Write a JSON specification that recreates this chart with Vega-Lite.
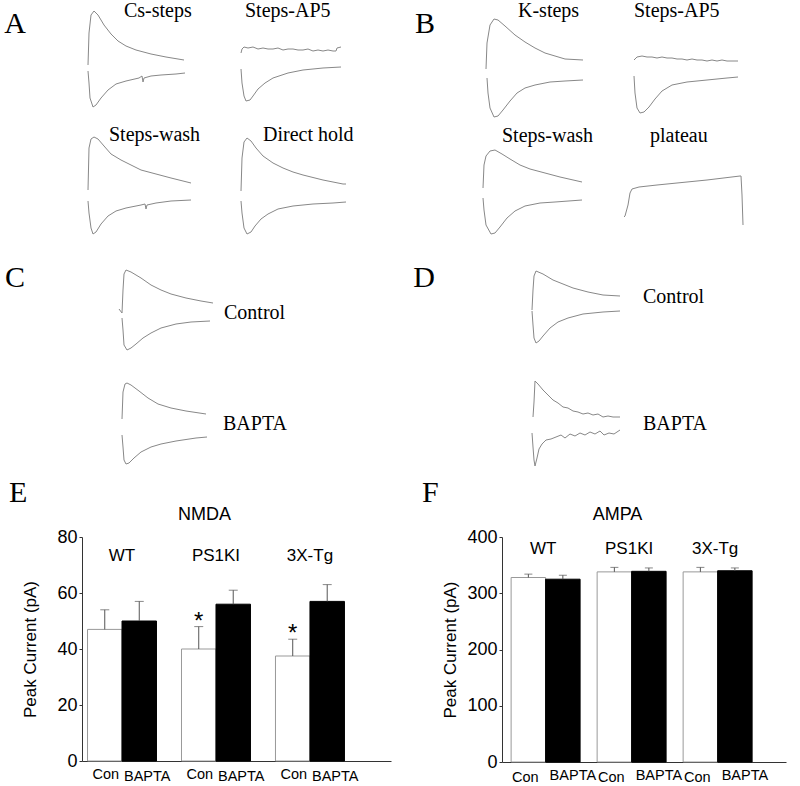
{
"$schema": "https://vega.github.io/schema/vega-lite/v6.json",
"padding": 0,
"background": "white",
"config": {
  "view": {"stroke": "transparent"},
  "title": {"anchor": "start", "frame": "group", "baseline": "alphabetic", "font": "Liberation Serif", "fontSize": 20, "fontWeight": "normal", "color": "black"},
  "line": {"color": "#888888", "strokeWidth": 1},
  "axis": {"labelFont": "Liberation Sans", "titleFont": "Liberation Sans", "labelColor": "black", "titleColor": "black", "titleFontWeight": "normal", "grid": false, "domainColor": "#333333", "tickColor": "#333333"}
},
"datasets": {
  "A1": [{"k":"u","t":3,"v":-4},{"k":"u","t":4,"v":28},{"k":"u","t":6,"v":46},{"k":"u","t":9,"v":50},{"k":"u","t":13,"v":46},{"k":"u","t":19,"v":36},{"k":"u","t":26,"v":27},{"k":"u","t":33,"v":20},{"k":"u","t":41,"v":15},{"k":"u","t":51,"v":11},{"k":"u","t":66,"v":7},{"k":"u","t":81,"v":4},{"k":"u","t":99,"v":1},
         {"k":"l","t":3,"v":-10},{"k":"l","t":4,"v":-22},{"k":"l","t":5,"v":-37},{"k":"l","t":8,"v":-46},{"k":"l","t":11,"v":-44},{"k":"l","t":16,"v":-37},{"k":"l","t":23,"v":-29},{"k":"l","t":31,"v":-23},{"k":"l","t":41,"v":-20},{"k":"l","t":54,"v":-17},{"k":"l","t":57,"v":-15},{"k":"l","t":58,"v":-21},{"k":"l","t":59,"v":-17},{"k":"l","t":66,"v":-15},{"k":"l","t":76,"v":-14},{"k":"l","t":91,"v":-13},{"k":"l","t":100,"v":-12}],
  "A2": [{"k":"u","t":4,"v":8},{"k":"u","t":5,"v":12},{"k":"u","t":7,"v":14},{"k":"u","t":11,"v":13},{"k":"u","t":16,"v":14},{"k":"u","t":21,"v":12},{"k":"u","t":26,"v":13},{"k":"u","t":31,"v":12},{"k":"u","t":36,"v":12},{"k":"u","t":41,"v":13},{"k":"u","t":46,"v":11},{"k":"u","t":51,"v":12},{"k":"u","t":56,"v":12},{"k":"u","t":61,"v":11},{"k":"u","t":66,"v":11},{"k":"u","t":71,"v":12},{"k":"u","t":76,"v":10},{"k":"u","t":81,"v":11},{"k":"u","t":86,"v":10},{"k":"u","t":91,"v":11},{"k":"u","t":96,"v":10},{"k":"u","t":99,"v":10},{"k":"u","t":100,"v":13},{"k":"u","t":104,"v":14},
         {"k":"l","t":4,"v":-8},{"k":"l","t":5,"v":-22},{"k":"l","t":7,"v":-35},{"k":"l","t":9,"v":-40},{"k":"l","t":13,"v":-39},{"k":"l","t":16,"v":-35},{"k":"l","t":21,"v":-28},{"k":"l","t":28,"v":-22},{"k":"l","t":36,"v":-17},{"k":"l","t":51,"v":-12},{"k":"l","t":66,"v":-9},{"k":"l","t":86,"v":-7},{"k":"l","t":104,"v":-6}],
  "A3": [{"k":"u","t":3,"v":-4},{"k":"u","t":4,"v":38},{"k":"u","t":6,"v":47},{"k":"u","t":9,"v":49},{"k":"u","t":13,"v":47},{"k":"u","t":19,"v":40},{"k":"u","t":26,"v":32},{"k":"u","t":36,"v":26},{"k":"u","t":46,"v":21},{"k":"u","t":56,"v":16},{"k":"u","t":71,"v":12},{"k":"u","t":86,"v":8},{"k":"u","t":106,"v":3},
         {"k":"l","t":3,"v":-15},{"k":"l","t":4,"v":-27},{"k":"l","t":6,"v":-42},{"k":"l","t":8,"v":-48},{"k":"l","t":11,"v":-46},{"k":"l","t":16,"v":-38},{"k":"l","t":23,"v":-30},{"k":"l","t":31,"v":-25},{"k":"l","t":41,"v":-22},{"k":"l","t":56,"v":-19},{"k":"l","t":60,"v":-18},{"k":"l","t":61,"v":-23},{"k":"l","t":62,"v":-19},{"k":"l","t":71,"v":-17},{"k":"l","t":86,"v":-15},{"k":"l","t":106,"v":-14}],
  "A4": [{"k":"u","t":4,"v":-5},{"k":"u","t":5,"v":28},{"k":"u","t":7,"v":44},{"k":"u","t":10,"v":48},{"k":"u","t":14,"v":45},{"k":"u","t":19,"v":38},{"k":"u","t":26,"v":30},{"k":"u","t":36,"v":23},{"k":"u","t":46,"v":18},{"k":"u","t":56,"v":14},{"k":"u","t":66,"v":11},{"k":"u","t":86,"v":6},{"k":"u","t":106,"v":2},{"k":"u","t":109,"v":2},
         {"k":"l","t":4,"v":-15},{"k":"l","t":5,"v":-27},{"k":"l","t":7,"v":-42},{"k":"l","t":10,"v":-48},{"k":"l","t":14,"v":-46},{"k":"l","t":18,"v":-40},{"k":"l","t":24,"v":-33},{"k":"l","t":31,"v":-28},{"k":"l","t":41,"v":-23},{"k":"l","t":56,"v":-20},{"k":"l","t":76,"v":-18},{"k":"l","t":96,"v":-17},{"k":"l","t":109,"v":-16}],
  "B1": [{"k":"u","t":6,"v":-8},{"k":"u","t":7,"v":18},{"k":"u","t":10,"v":36},{"k":"u","t":14,"v":42},{"k":"u","t":18,"v":41},{"k":"u","t":25,"v":35},{"k":"u","t":35,"v":26},{"k":"u","t":45,"v":19},{"k":"u","t":55,"v":13},{"k":"u","t":65,"v":8},{"k":"u","t":75,"v":5},{"k":"u","t":85,"v":2},{"k":"u","t":103,"v":1},
         {"k":"l","t":7,"v":-17},{"k":"l","t":8,"v":-32},{"k":"l","t":10,"v":-47},{"k":"l","t":14,"v":-56},{"k":"l","t":18,"v":-55},{"k":"l","t":23,"v":-49},{"k":"l","t":30,"v":-40},{"k":"l","t":37,"v":-32},{"k":"l","t":45,"v":-27},{"k":"l","t":55,"v":-24},{"k":"l","t":70,"v":-21},{"k":"l","t":85,"v":-20},{"k":"l","t":103,"v":-19}],
  "B2": [{"k":"u","t":13,"v":1},{"k":"u","t":16,"v":4},{"k":"u","t":21,"v":5},{"k":"u","t":26,"v":4},{"k":"u","t":31,"v":4},{"k":"u","t":36,"v":3},{"k":"u","t":41,"v":4},{"k":"u","t":46,"v":3},{"k":"u","t":51,"v":3},{"k":"u","t":56,"v":2},{"k":"u","t":61,"v":2},{"k":"u","t":66,"v":1},{"k":"u","t":71,"v":2},{"k":"u","t":76,"v":1},{"k":"u","t":81,"v":1},{"k":"u","t":86,"v":0},{"k":"u","t":91,"v":1},{"k":"u","t":96,"v":0},{"k":"u","t":101,"v":1},{"k":"u","t":106,"v":0},{"k":"u","t":111,"v":0},{"k":"u","t":117,"v":0},
         {"k":"l","t":13,"v":-15},{"k":"l","t":14,"v":-32},{"k":"l","t":16,"v":-47},{"k":"l","t":19,"v":-52},{"k":"l","t":23,"v":-51},{"k":"l","t":28,"v":-46},{"k":"l","t":34,"v":-38},{"k":"l","t":41,"v":-30},{"k":"l","t":51,"v":-24},{"k":"l","t":66,"v":-21},{"k":"l","t":86,"v":-19},{"k":"l","t":106,"v":-17},{"k":"l","t":117,"v":-16}],
  "B3": [{"k":"u","t":3,"v":-5},{"k":"u","t":4,"v":18},{"k":"u","t":6,"v":27},{"k":"u","t":10,"v":32},{"k":"u","t":15,"v":33},{"k":"u","t":22,"v":29},{"k":"u","t":30,"v":24},{"k":"u","t":40,"v":18},{"k":"u","t":50,"v":14},{"k":"u","t":65,"v":10},{"k":"u","t":80,"v":6},{"k":"u","t":102,"v":1},
         {"k":"l","t":3,"v":-15},{"k":"l","t":4,"v":-27},{"k":"l","t":6,"v":-42},{"k":"l","t":11,"v":-51},{"k":"l","t":15,"v":-50},{"k":"l","t":20,"v":-44},{"k":"l","t":27,"v":-35},{"k":"l","t":35,"v":-28},{"k":"l","t":45,"v":-23},{"k":"l","t":60,"v":-20},{"k":"l","t":75,"v":-19},{"k":"l","t":102,"v":-17}],
  "B4": [{"k":"p","t":3,"v":-34},{"k":"p","t":4,"v":-33},{"k":"p","t":7,"v":-22},{"k":"p","t":9,"v":-10},{"k":"p","t":11,"v":-6},{"k":"p","t":18,"v":-4},{"k":"p","t":36,"v":-2},{"k":"p","t":56,"v":0},{"k":"p","t":86,"v":3},{"k":"p","t":119,"v":7},{"k":"p","t":120,"v":7},{"k":"p","t":121,"v":-12},{"k":"p","t":122,"v":-42}],
  "Cc": [{"k":"u","t":4,"v":3},{"k":"u","t":7,"v":-1},{"k":"u","t":8,"v":22},{"k":"u","t":9,"v":38},{"k":"u","t":11,"v":42},{"k":"u","t":16,"v":40},{"k":"u","t":26,"v":34},{"k":"u","t":36,"v":27},{"k":"u","t":46,"v":22},{"k":"u","t":56,"v":18},{"k":"u","t":71,"v":14},{"k":"u","t":86,"v":11},{"k":"u","t":98,"v":9},
         {"k":"l","t":7,"v":-6},{"k":"l","t":8,"v":-18},{"k":"l","t":9,"v":-33},{"k":"l","t":12,"v":-38},{"k":"l","t":16,"v":-36},{"k":"l","t":21,"v":-32},{"k":"l","t":28,"v":-26},{"k":"l","t":36,"v":-21},{"k":"l","t":46,"v":-16},{"k":"l","t":61,"v":-12},{"k":"l","t":76,"v":-10},{"k":"l","t":95,"v":-9}],
  "Cb": [{"k":"u","t":7,"v":3},{"k":"u","t":8,"v":30},{"k":"u","t":10,"v":38},{"k":"u","t":12,"v":39},{"k":"u","t":16,"v":37},{"k":"u","t":24,"v":31},{"k":"u","t":33,"v":24},{"k":"u","t":43,"v":18},{"k":"u","t":56,"v":14},{"k":"u","t":71,"v":11},{"k":"u","t":91,"v":8},
         {"k":"l","t":7,"v":-13},{"k":"l","t":8,"v":-25},{"k":"l","t":9,"v":-38},{"k":"l","t":11,"v":-42},{"k":"l","t":14,"v":-41},{"k":"l","t":19,"v":-36},{"k":"l","t":26,"v":-30},{"k":"l","t":36,"v":-25},{"k":"l","t":46,"v":-22},{"k":"l","t":61,"v":-19},{"k":"l","t":81,"v":-16},{"k":"l","t":92,"v":-15}],
  "Dc": [{"k":"u","t":5,"v":2},{"k":"u","t":6,"v":22},{"k":"u","t":7,"v":36},{"k":"u","t":9,"v":41},{"k":"u","t":16,"v":38},{"k":"u","t":26,"v":32},{"k":"u","t":36,"v":28},{"k":"u","t":46,"v":24},{"k":"u","t":61,"v":20},{"k":"u","t":76,"v":17},{"k":"u","t":93,"v":16},
         {"k":"l","t":5,"v":1},{"k":"l","t":6,"v":-13},{"k":"l","t":7,"v":-26},{"k":"l","t":9,"v":-31},{"k":"l","t":12,"v":-29},{"k":"l","t":16,"v":-24},{"k":"l","t":23,"v":-16},{"k":"l","t":31,"v":-10},{"k":"l","t":41,"v":-6},{"k":"l","t":56,"v":-2},{"k":"l","t":76,"v":0},{"k":"l","t":93,"v":1}],
  "Db": [{"k":"u","t":6,"v":5},{"k":"u","t":7,"v":20},{"k":"u","t":8,"v":41},{"k":"u","t":11,"v":38},{"k":"u","t":16,"v":32},{"k":"u","t":21,"v":27},{"k":"u","t":26,"v":22},{"k":"u","t":31,"v":19},{"k":"u","t":36,"v":15},{"k":"u","t":41,"v":14},{"k":"u","t":46,"v":11},{"k":"u","t":51,"v":10},{"k":"u","t":56,"v":8},{"k":"u","t":61,"v":9},{"k":"u","t":66,"v":7},{"k":"u","t":71,"v":8},{"k":"u","t":76,"v":5},{"k":"u","t":81,"v":6},{"k":"u","t":86,"v":5},{"k":"u","t":93,"v":5},
         {"k":"l","t":5,"v":-11},{"k":"l","t":6,"v":-25},{"k":"l","t":7,"v":-38},{"k":"l","t":8,"v":-44},{"k":"l","t":10,"v":-36},{"k":"l","t":12,"v":-27},{"k":"l","t":15,"v":-22},{"k":"l","t":19,"v":-18},{"k":"l","t":24,"v":-17},{"k":"l","t":29,"v":-15},{"k":"l","t":34,"v":-13},{"k":"l","t":38,"v":-16},{"k":"l","t":43,"v":-12},{"k":"l","t":48,"v":-14},{"k":"l","t":53,"v":-11},{"k":"l","t":58,"v":-13},{"k":"l","t":63,"v":-10},{"k":"l","t":68,"v":-12},{"k":"l","t":73,"v":-9},{"k":"l","t":77,"v":-13},{"k":"l","t":82,"v":-11},{"k":"l","t":87,"v":-12},{"k":"l","t":93,"v":-8}],
  "nmda": [{"g":"WT","c":"Con","m":47,"hi":54,"star":""},{"g":"WT","c":"BAPTA","m":50,"hi":57,"star":""},{"g":"PS1KI","c":"Con","m":40,"hi":48,"star":"*"},{"g":"PS1KI","c":"BAPTA","m":56,"hi":61,"star":""},{"g":"3X-Tg","c":"Con","m":37.5,"hi":43.5,"star":"*"},{"g":"3X-Tg","c":"BAPTA","m":57,"hi":63,"star":""}],
  "ampa": [{"g":"WT","c":"Con","m":328,"hi":334},{"g":"WT","c":"BAPTA","m":325,"hi":332},{"g":"PS1KI","c":"Con","m":338,"hi":346},{"g":"PS1KI","c":"BAPTA","m":339,"hi":345},{"g":"3X-Tg","c":"Con","m":338,"hi":346},{"g":"3X-Tg","c":"BAPTA","m":340,"hi":345}]
},
"spacing": 4,
"vconcat": [
  {"spacing": 32, "hconcat": [
    {"spacing": 54, "hconcat": [
      {"width": 30, "height": 42, "data": {"values": [{"s": "A"}]}, "mark": {"type": "text", "font": "Liberation Serif", "fontSize": 30, "baseline": "middle", "align": "center"}, "encoding": {"text": {"field": "s"}}},
      {"spacing": 4, "vconcat": [
        {"spacing": 10, "hconcat": [
          {"width": 140, "height": 116, "title": {"text": "Cs-steps", "dx": 39, "offset": -18}, "data": {"name": "A1"}, "mark": "line",
           "encoding": {"x": {"field": "t", "type": "quantitative", "scale": {"domain": [0, 140], "nice": false, "zero": false}, "axis": null}, "y": {"field": "v", "type": "quantitative", "scale": {"domain": [-58, 58], "nice": false, "zero": false}, "axis": null}, "detail": {"field": "k"}}},
          {"width": 140, "height": 116, "title": {"text": "Steps-AP5", "dx": 8, "offset": -18}, "data": {"name": "A2"}, "mark": "line",
           "encoding": {"x": {"field": "t", "type": "quantitative", "scale": {"domain": [0, 140], "nice": false, "zero": false}, "axis": null}, "y": {"field": "v", "type": "quantitative", "scale": {"domain": [-58, 58], "nice": false, "zero": false}, "axis": null}, "detail": {"field": "k"}}}
        ]},
        {"spacing": 10, "hconcat": [
          {"width": 140, "height": 116, "title": {"text": "Steps-wash", "dx": 24, "offset": -17}, "data": {"name": "A3"}, "mark": "line",
           "encoding": {"x": {"field": "t", "type": "quantitative", "scale": {"domain": [0, 140], "nice": false, "zero": false}, "axis": null}, "y": {"field": "v", "type": "quantitative", "scale": {"domain": [-58, 58], "nice": false, "zero": false}, "axis": null}, "detail": {"field": "k"}}},
          {"width": 140, "height": 116, "title": {"text": "Direct hold", "dx": 26, "offset": -17}, "data": {"name": "A4"}, "mark": "line",
           "encoding": {"x": {"field": "t", "type": "quantitative", "scale": {"domain": [0, 140], "nice": false, "zero": false}, "axis": null}, "y": {"field": "v", "type": "quantitative", "scale": {"domain": [-58, 58], "nice": false, "zero": false}, "axis": null}, "detail": {"field": "k"}}}
        ]}
      ]}
    ]},
    {"spacing": 39, "hconcat": [
      {"width": 30, "height": 42, "data": {"values": [{"s": "B"}]}, "mark": {"type": "text", "font": "Liberation Serif", "fontSize": 30, "baseline": "middle", "align": "center"}, "encoding": {"text": {"field": "s"}}},
      {"spacing": 4, "vconcat": [
        {"spacing": 9, "hconcat": [
          {"width": 130, "height": 116, "title": {"text": "K-steps", "dx": 38, "offset": -18}, "data": {"name": "B1"}, "mark": "line",
           "encoding": {"x": {"field": "t", "type": "quantitative", "scale": {"domain": [0, 130], "nice": false, "zero": false}, "axis": null}, "y": {"field": "v", "type": "quantitative", "scale": {"domain": [-58, 58], "nice": false, "zero": false}, "axis": null}, "detail": {"field": "k"}}},
          {"width": 130, "height": 116, "title": {"text": "Steps-AP5", "dx": 13, "offset": -18}, "data": {"name": "B2"}, "mark": "line",
           "encoding": {"x": {"field": "t", "type": "quantitative", "scale": {"domain": [0, 130], "nice": false, "zero": false}, "axis": null}, "y": {"field": "v", "type": "quantitative", "scale": {"domain": [-58, 58], "nice": false, "zero": false}, "axis": null}, "detail": {"field": "k"}}}
        ]},
        {"spacing": 9, "hconcat": [
          {"width": 130, "height": 116, "title": {"text": "Steps-wash", "dx": 22, "offset": -21}, "data": {"name": "B3"}, "mark": "line",
           "encoding": {"x": {"field": "t", "type": "quantitative", "scale": {"domain": [0, 130], "nice": false, "zero": false}, "axis": null}, "y": {"field": "v", "type": "quantitative", "scale": {"domain": [-58, 58], "nice": false, "zero": false}, "axis": null}, "detail": {"field": "k"}}},
          {"width": 130, "height": 116, "title": {"text": "plateau", "dx": 29, "offset": -21}, "data": {"name": "B4"}, "mark": "line",
           "encoding": {"x": {"field": "t", "type": "quantitative", "scale": {"domain": [0, 130], "nice": false, "zero": false}, "axis": null}, "y": {"field": "v", "type": "quantitative", "scale": {"domain": [-58, 58], "nice": false, "zero": false}, "axis": null}, "detail": {"field": "k"}}}
        ]}
      ]}
    ]}
  ]},
  {"spacing": 113, "hconcat": [
    {"spacing": 84, "hconcat": [
      {"width": 30, "height": 56, "data": {"values": [{"s": "C"}]}, "mark": {"type": "text", "font": "Liberation Serif", "fontSize": 30, "baseline": "middle", "align": "center"}, "encoding": {"text": {"field": "s"}}},
      {"spacing": 4, "vconcat": [
        {"width": 180, "height": 104, "title": {"text": "Control", "dx": 109, "offset": -73}, "data": {"name": "Cc"}, "mark": "line",
         "encoding": {"x": {"field": "t", "type": "quantitative", "scale": {"domain": [0, 180], "nice": false, "zero": false}, "axis": null}, "y": {"field": "v", "type": "quantitative", "scale": {"domain": [-42, 62], "nice": false, "zero": false}, "axis": null}, "detail": {"field": "k"}}},
        {"width": 180, "height": 112, "title": {"text": "BAPTA", "dx": 108, "offset": -74}, "data": {"name": "Cb"}, "mark": "line",
         "encoding": {"x": {"field": "t", "type": "quantitative", "scale": {"domain": [0, 180], "nice": false, "zero": false}, "axis": null}, "y": {"field": "v", "type": "quantitative", "scale": {"domain": [-50, 62], "nice": false, "zero": false}, "axis": null}, "detail": {"field": "k"}}}
      ]}
    ]},
    {"spacing": 87, "hconcat": [
      {"width": 30, "height": 56, "data": {"values": [{"s": "D"}]}, "mark": {"type": "text", "font": "Liberation Serif", "fontSize": 30, "baseline": "middle", "align": "center"}, "encoding": {"text": {"field": "s"}}},
      {"spacing": 4, "vconcat": [
        {"width": 180, "height": 104, "title": {"text": "Control", "dx": 116, "offset": -57}, "data": {"name": "Dc"}, "mark": "line",
         "encoding": {"x": {"field": "t", "type": "quantitative", "scale": {"domain": [0, 180], "nice": false, "zero": false}, "axis": null}, "y": {"field": "v", "type": "quantitative", "scale": {"domain": [-42, 62], "nice": false, "zero": false}, "axis": null}, "detail": {"field": "k"}}},
        {"width": 184, "height": 112, "title": {"text": "BAPTA", "dx": 116, "offset": -74}, "data": {"name": "Db"}, "mark": "line",
         "encoding": {"x": {"field": "t", "type": "quantitative", "scale": {"domain": [0, 184], "nice": false, "zero": false}, "axis": null}, "y": {"field": "v", "type": "quantitative", "scale": {"domain": [-50, 62], "nice": false, "zero": false}, "axis": null}, "detail": {"field": "k"}}}
      ]}
    ]}
  ]},
  {"spacing": 7, "hconcat": [
    {"width": 1, "height": 1, "data": {"values": []}, "mark": "point"},
    {"spacing": 29, "hconcat": [
      {"width": 309, "height": 224,
       "title": {"text": "E", "frame": "bounds", "dx": -13, "offset": -3, "font": "Liberation Serif", "fontSize": 30},
       "data": {"name": "nmda"},
       "resolve": {"axis": {"x": "independent", "y": "independent"}},
       "layer": [
         {"mark": {"type": "bar", "strokeWidth": 1},
          "encoding": {
            "x": {"field": "g", "type": "nominal", "sort": ["WT", "PS1KI", "3X-Tg"], "scale": {"paddingInner": 0.266, "paddingOuter": 0.277, "align": 0.106}, "axis": {"orient": "bottom", "labels": false, "ticks": false, "title": null, "domain": true}},
            "xOffset": {"field": "c", "type": "nominal", "sort": ["Con", "BAPTA"], "scale": {"paddingInner": 0, "paddingOuter": 0}},
            "y": {"field": "m", "type": "quantitative", "scale": {"domain": [0, 80], "nice": false}, "axis": {"title": "Peak Current (pA)", "values": [0, 20, 40, 60, 80], "tickSize": 3, "labelPadding": 2, "labelFontSize": 18, "titleFontSize": 17, "titlePadding": 17}},
            "fill": {"field": "c", "type": "nominal", "scale": {"domain": ["Con", "BAPTA"], "range": ["white", "black"]}, "legend": null},
            "stroke": {"field": "c", "type": "nominal", "scale": {"domain": ["Con", "BAPTA"], "range": ["#999999", "black"]}, "legend": null}
          }},
         {"mark": {"type": "rule", "color": "#555555"},
          "encoding": {
            "x": {"field": "g", "type": "nominal", "sort": ["WT", "PS1KI", "3X-Tg"], "axis": {"orient": "top", "title": "NMDA", "domain": false, "ticks": false, "tickSize": 0, "labelPadding": -27, "labelAngle": 0, "labelFontSize": 17, "titleFontSize": 18, "titlePadding": 14, "titleX": 122}},
            "xOffset": {"field": "c", "type": "nominal", "sort": ["Con", "BAPTA"]},
            "y": {"field": "m", "type": "quantitative", "axis": null},
            "y2": {"field": "hi"}
          }},
         {"mark": {"type": "tick", "color": "#555555", "thickness": 1, "size": 9},
          "encoding": {
            "x": {"field": "g", "type": "nominal", "sort": ["WT", "PS1KI", "3X-Tg"], "axis": null},
            "xOffset": {"field": "c", "type": "nominal", "sort": ["Con", "BAPTA"]},
            "y": {"field": "hi", "type": "quantitative", "axis": null}
          }},
         {"mark": {"type": "text", "font": "Liberation Sans", "fontSize": 24, "baseline": "alphabetic", "dy": 2},
          "encoding": {
            "x": {"field": "g", "type": "nominal", "sort": ["WT", "PS1KI", "3X-Tg"], "axis": null},
            "xOffset": {"field": "c", "type": "nominal", "sort": ["Con", "BAPTA"]},
            "y": {"field": "hi", "type": "quantitative", "axis": null},
            "text": {"field": "star"}
          }},
         {"transform": [{"filter": "datum.c === 'Con'"}],
          "mark": {"type": "text", "font": "Liberation Sans", "fontSize": 14.5, "baseline": "top", "dy": 7, "dx": 1},
          "encoding": {
            "x": {"field": "g", "type": "nominal", "sort": ["WT", "PS1KI", "3X-Tg"], "axis": null},
            "xOffset": {"field": "c", "type": "nominal", "sort": ["Con", "BAPTA"]},
            "y": {"datum": 0, "axis": null},
            "text": {"field": "c"}
          }},
         {"transform": [{"filter": "datum.c === 'BAPTA'"}],
          "mark": {"type": "text", "font": "Liberation Sans", "fontSize": 14.5, "baseline": "top", "dy": 9, "dx": 8},
          "encoding": {
            "x": {"field": "g", "type": "nominal", "sort": ["WT", "PS1KI", "3X-Tg"], "axis": null},
            "xOffset": {"field": "c", "type": "nominal", "sort": ["Con", "BAPTA"]},
            "y": {"datum": 0, "axis": null},
            "text": {"field": "c"}
          }}
       ]},
      {"width": 284, "height": 225,
       "title": {"text": "F", "frame": "bounds", "dx": -20, "offset": -3, "font": "Liberation Serif", "fontSize": 30},
       "data": {"name": "ampa"},
       "resolve": {"axis": {"x": "independent", "y": "independent"}},
       "layer": [
         {"mark": {"type": "bar", "strokeWidth": 1},
          "encoding": {
            "x": {"field": "g", "type": "nominal", "sort": ["WT", "PS1KI", "3X-Tg"], "scale": {"paddingInner": 0.256, "paddingOuter": 0.279, "align": 0.19}, "axis": {"orient": "bottom", "labels": false, "ticks": false, "title": null, "domain": true}},
            "xOffset": {"field": "c", "type": "nominal", "sort": ["Con", "BAPTA"], "scale": {"paddingInner": 0, "paddingOuter": 0}},
            "y": {"field": "m", "type": "quantitative", "scale": {"domain": [0, 400], "nice": false}, "axis": {"title": "Peak Current (pA)", "values": [0, 100, 200, 300, 400], "tickSize": 3, "labelPadding": 2, "labelFontSize": 18, "titleFontSize": 17, "titlePadding": 7}},
            "fill": {"field": "c", "type": "nominal", "scale": {"domain": ["Con", "BAPTA"], "range": ["white", "black"]}, "legend": null},
            "stroke": {"field": "c", "type": "nominal", "scale": {"domain": ["Con", "BAPTA"], "range": ["#999999", "black"]}, "legend": null}
          }},
         {"mark": {"type": "rule", "color": "#555555"},
          "encoding": {
            "x": {"field": "g", "type": "nominal", "sort": ["WT", "PS1KI", "3X-Tg"], "axis": {"orient": "top", "title": "AMPA", "domain": false, "ticks": false, "tickSize": 0, "labelPadding": -20, "labelAngle": 0, "labelFontSize": 17, "titleFontSize": 18, "titlePadding": 14, "titleX": 115}},
            "xOffset": {"field": "c", "type": "nominal", "sort": ["Con", "BAPTA"]},
            "y": {"field": "m", "type": "quantitative", "axis": null},
            "y2": {"field": "hi"}
          }},
         {"mark": {"type": "tick", "color": "#555555", "thickness": 1, "size": 8},
          "encoding": {
            "x": {"field": "g", "type": "nominal", "sort": ["WT", "PS1KI", "3X-Tg"], "axis": null},
            "xOffset": {"field": "c", "type": "nominal", "sort": ["Con", "BAPTA"]},
            "y": {"field": "hi", "type": "quantitative", "axis": null}
          }},
         {"transform": [{"filter": "datum.c === 'Con'"}],
          "mark": {"type": "text", "font": "Liberation Sans", "fontSize": 14.5, "baseline": "top", "dy": 9, "dx": -3},
          "encoding": {
            "x": {"field": "g", "type": "nominal", "sort": ["WT", "PS1KI", "3X-Tg"], "axis": null},
            "xOffset": {"field": "c", "type": "nominal", "sort": ["Con", "BAPTA"]},
            "y": {"datum": 0, "axis": null},
            "text": {"field": "c"}
          }},
         {"transform": [{"filter": "datum.c === 'BAPTA'"}],
          "mark": {"type": "text", "font": "Liberation Sans", "fontSize": 14.5, "baseline": "top", "dy": 7, "dx": 10},
          "encoding": {
            "x": {"field": "g", "type": "nominal", "sort": ["WT", "PS1KI", "3X-Tg"], "axis": null},
            "xOffset": {"field": "c", "type": "nominal", "sort": ["Con", "BAPTA"]},
            "y": {"datum": 0, "axis": null},
            "text": {"field": "c"}
          }}
       ]}
    ]}
  ]}
]
}
